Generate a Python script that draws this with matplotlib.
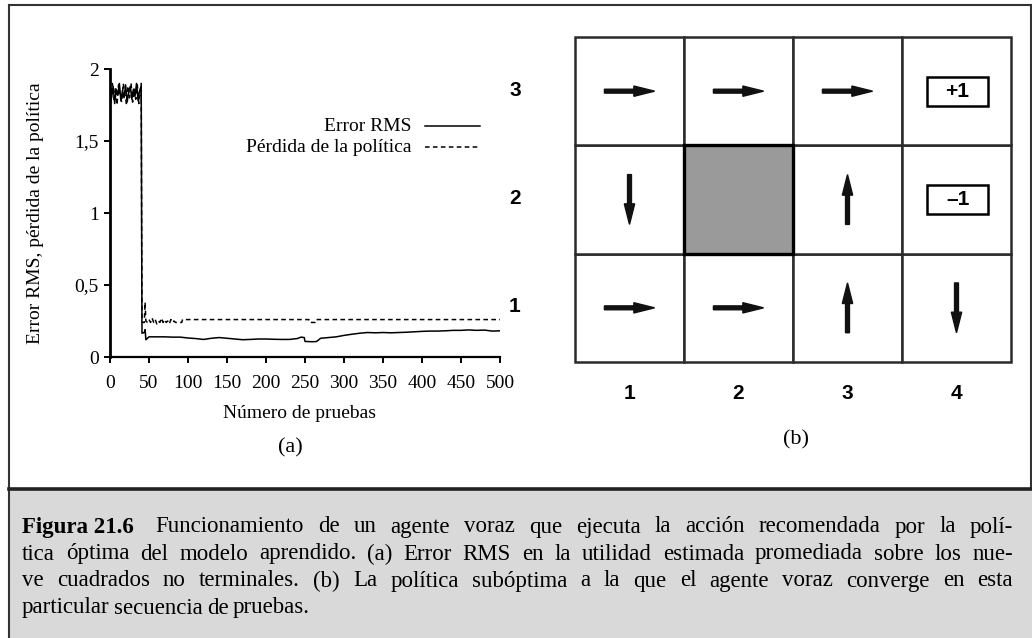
import numpy as np
import matplotlib
matplotlib.use("Agg")
import matplotlib.pyplot as plt
from matplotlib.patches import Rectangle
from matplotlib.lines import Line2D

W, H = 1032, 638
SERIF = "Liberation Serif"
SANS = "Liberation Sans"

# --- (a) learning curves -------------------------------------------------
rms_x = [0, 2, 4, 6, 8, 10, 12, 14, 16, 18, 20, 22, 24, 26, 28, 30, 32, 34, 36, 38, 40,
         41, 44, 45, 46, 50, 60, 70, 80, 90, 100, 110, 120, 130, 140, 150, 160, 170,
         180, 190, 200, 210, 220, 230, 240, 245, 249, 250, 260, 265, 270, 280, 290,
         300, 310, 320, 330, 340, 350, 360, 370, 380, 390, 400, 410, 420, 430, 440,
         450, 460, 470, 480, 490, 500]
rms_y = [1.90, 1.80, 1.88, 1.76, 1.86, 1.82, 1.90, 1.78, 1.85, 1.80, 1.89, 1.77, 1.84,
         1.88, 1.79, 1.86, 1.81, 1.90, 1.78, 1.85, 1.88,
         0.165, 0.17, 0.19, 0.12, 0.14, 0.14, 0.14, 0.138, 0.138, 0.132, 0.128, 0.122,
         0.13, 0.135, 0.13, 0.125, 0.12, 0.122, 0.125, 0.125, 0.123, 0.122, 0.122,
         0.128, 0.138, 0.135, 0.108, 0.106, 0.108, 0.13, 0.135, 0.14, 0.15, 0.158,
         0.165, 0.17, 0.168, 0.17, 0.168, 0.17, 0.172, 0.175, 0.178, 0.18, 0.18,
         0.182, 0.185, 0.185, 0.188, 0.185, 0.187, 0.18, 0.182]

loss_x = [0, 1, 3, 5, 7, 9, 11, 13, 15, 17, 19, 21, 23, 25, 27, 29, 31, 33, 35, 37, 39, 40,
          41, 44, 45, 46, 48, 50, 52, 54, 56, 58, 60, 62, 64, 66, 68, 70, 72, 74, 76,
          78, 80, 82, 84, 90, 92, 93, 255, 256, 263, 264, 500]
loss_y = [1.85, 1.76, 1.90, 1.79, 1.87, 1.75, 1.89, 1.81, 1.77, 1.90, 1.83, 1.76, 1.88,
          1.80, 1.90, 1.77, 1.86, 1.79, 1.89, 1.76, 1.84, 1.90,
          0.24, 0.24, 0.38, 0.25, 0.24, 0.26, 0.24, 0.27, 0.24, 0.26, 0.23, 0.25, 0.24,
          0.27, 0.24, 0.26, 0.24, 0.25, 0.23, 0.26, 0.24, 0.25, 0.24, 0.24, 0.24, 0.26,
          0.26, 0.24, 0.24, 0.26, 0.26]

x_ticks = [0, 50, 100, 150, 200, 250, 300, 350, 400, 450, 500]
y_ticks = [0, 0.5, 1, 1.5, 2]
y_labels = ["0", "0,5", "1", "1,5", "2"]

# --- (b) policy grid -----------------------------------------------------
cols = [1, 2, 3, 4]
rows = [1, 2, 3]
wall = (2, 2)
terminals = {(4, 3): "+1", (4, 2): "\u20131"}
policy = {(1, 3): "R", (2, 3): "R", (3, 3): "R",
          (1, 2): "D", (3, 2): "U",
          (1, 1): "R", (2, 1): "R", (3, 1): "U", (4, 1): "D"}

caption_head = "Figura 21.6"
caption_lines = [
    "Funcionamiento de un agente voraz que ejecuta la acción recomendada por la polí-",
    "tica óptima del modelo aprendido. (a) Error RMS en la utilidad estimada promediada sobre los nue-",
    "ve cuadrados no terminales. (b) La política subóptima a la que el agente voraz converge en esta",
    "particular secuencia de pruebas.",
]

fig = plt.figure(figsize=(W / 100, H / 100), dpi=100)


def fx(px):
    return px / W


def fy(py):
    return 1 - py / H


# frame and caption background
fig.patches.append(Rectangle((fx(9), fy(638)), fx(1032) - fx(9), fy(490) - fy(638),
                             transform=fig.transFigure, facecolor="#d9d9d9",
                             edgecolor="none", zorder=0))
fig.lines.append(Line2D([fx(9), fx(9)], [fy(5), fy(638)], transform=fig.transFigure,
                        color="#333333", lw=1.5))
fig.lines.append(Line2D([fx(9), fx(1031)], [fy(5), fy(5)], transform=fig.transFigure,
                        color="#333333", lw=1.5))
fig.lines.append(Line2D([fx(1031), fx(1031)], [fy(5), fy(488)], transform=fig.transFigure,
                        color="#333333", lw=1.5))
fig.lines.append(Line2D([fx(9), fx(1032)], [fy(488.5), fy(488.5)], transform=fig.transFigure,
                        color="#222222", lw=2.6))

# ---- left chart
ax = fig.add_axes([fx(110), fy(357), fx(500) - fx(110), fy(69) - fy(357)])
ax.plot(rms_x, rms_y, color="black", lw=1.1)
ax.plot(loss_x, loss_y, color="black", lw=1.1, dashes=(3, 2.2))
ax.set_xlim(0, 500)
ax.set_ylim(0, 2)
ax.set_xticks(x_ticks)
ax.set_xticklabels([str(t) for t in x_ticks], fontsize=14, family=SERIF)
ax.set_yticks(y_ticks)
ax.set_yticklabels(y_labels, fontsize=14, family=SERIF)
ax.tick_params(direction="out", length=4, width=1.4, pad=4)
ax.tick_params(axis="x", pad=9)
for s in ["top", "right"]:
    ax.spines[s].set_visible(False)
ax.spines["left"].set_linewidth(2)
ax.spines["bottom"].set_linewidth(1.6)
ax.set_ylabel("Error RMS, pérdida de la política", fontsize=14, family=SERIF)
ax.yaxis.set_label_coords(-0.17, 0.5)
ax.set_xlabel("Número de pruebas", fontsize=14, family=SERIF)
ax.xaxis.set_label_coords(0.487, -0.165)

# legend, line after label
for lab, dash, yy in [("Error RMS", None, 0.799), ("Pérdida de la política", (3, 2.2), 0.726)]:
    ax.text(0.774, yy, lab, transform=ax.transAxes, ha="right", va="center",
            fontsize=14, family=SERIF)
    ln = Line2D([0.808, 0.949], [yy + 0.004, yy + 0.004], transform=ax.transAxes,
                color="black", lw=1.1)
    if dash:
        ln.set_dashes(dash)
    ax.add_line(ln)

fig.text(fx(290), fy(448), "(a)", ha="center", va="center", fontsize=16, family=SERIF)
fig.text(fx(796), fy(440), "(b)", ha="center", va="center", fontsize=16, family=SERIF)

# ---- grid world
gx = fig.add_axes([fx(575), fy(362), fx(1011) - fx(575), fy(37) - fy(362)])
gx.set_xlim(0.5, 4.5)
gx.set_ylim(0.5, 3.5)
gx.axis("off")
for c in cols:
    for r in rows:
        if (c, r) == wall:
            continue
        gx.add_patch(Rectangle((c - 0.5, r - 0.5), 1, 1, facecolor="white",
                               edgecolor="#2b2b2b", lw=1.8, clip_on=False))
gx.add_patch(Rectangle((wall[0] - 0.5, wall[1] - 0.5), 1, 1, facecolor="#9a9a9a",
                       edgecolor="black", lw=2.4, clip_on=False, zorder=3))

vec = {"R": (1, 0), "L": (-1, 0), "U": (0, 1), "D": (0, -1)}
L = 0.46
for (c, r), d in policy.items():
    dx, dy = vec[d]
    gx.arrow(c - dx * L / 2, r - dy * L / 2, dx * L, dy * L, width=0.036,
             head_width=0.095, head_length=0.19, length_includes_head=True,
             color="#111111", zorder=4)

for (c, r), lab in terminals.items():
    gx.add_patch(Rectangle((c + 0.01 - 0.28, r - 0.135), 0.56, 0.27, facecolor="white",
                           edgecolor="black", lw=1.8, zorder=4))
    gx.text(c + 0.01, r, lab, ha="center", va="center", fontsize=15,
            fontweight="bold", family=SANS, zorder=5)

for r in rows:
    gx.text(0.5 - 60 / 109, r + 0.01, str(r), ha="center", va="center", fontsize=15,
            fontweight="bold", family=SANS, clip_on=False)
for c in cols:
    gx.text(c, 0.5 - 32 / 108.5, str(c), ha="center", va="center", fontsize=15,
            fontweight="bold", family=SANS, clip_on=False)

# ---- caption with justified lines
renderer = fig.canvas.get_renderer()
x0, x1 = 22, 1013
line_y = [527, 554, 581, 608]
CAP_FS = 16.5
for i, (txt, yy) in enumerate(zip(caption_lines, line_y)):
    start = x0
    if i == 0:
        head = fig.text(fx(x0), fy(yy), caption_head, fontsize=CAP_FS, family=SERIF,
                        va="center", fontweight="bold")
        start = x0 + head.get_window_extent(renderer).width + 22
    words = txt.split(" ")
    arts = [fig.text(0, fy(yy), w, fontsize=CAP_FS, family=SERIF, va="center")
            for w in words]
    widths = [a.get_window_extent(renderer).width for a in arts]
    space = 4.2
    if i < len(caption_lines) - 1:
        space = (x1 - start - sum(widths)) / (len(words) - 1)
    xx = start
    for a, w in zip(arts, widths):
        a.set_x(fx(xx))
        xx += w + space

fig.savefig("out.png", dpi=100)
